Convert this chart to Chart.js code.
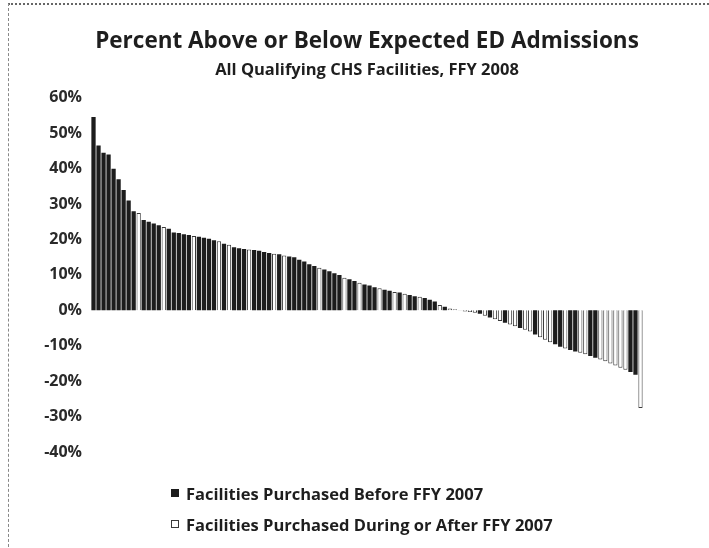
<!DOCTYPE html>
<html>
<head>
<meta charset="utf-8">
<script src="https://cdn.jsdelivr.net/npm/chart.js@4/dist/chart.umd.min.js"></script>
<style>
  html, body { margin: 0; padding: 0; background: #fff; }
  #wrap {
    position: relative; width: 709px; height: 548px; overflow: hidden;
    background: #fff;
  }
  #frame {
    position: absolute; left: 8px; top: 3px; right: -4px; bottom: -4px;
    border-top: 2px dotted #666; border-left: 1px dashed #888;
    pointer-events: none;
  }
  canvas { position: absolute; left: 0; top: 0; }
  #legend {
    position: absolute; left: 171px; top: 482px;
    font-family: "Open Sans", Lato, "DejaVu Sans", sans-serif; font-weight: bold;
    font-size: 16.5px; color: #1e1e1e;
  }
  #legend .item { display: flex; align-items: center; height: 22px; margin-bottom: 9px; }
  #legend .box { width: 8px; height: 8px; margin-right: 7px; box-sizing: border-box; }
</style>
</head>
<body>
<div id="wrap">
  <canvas id="c" width="709" height="548"></canvas>
  <div id="frame"></div>
  <div id="legend"></div>
</div>
<script>
// Percent above (+) or below (-) expected ED admissions, facilities ranked high to low
const pctAboveExpected = [
  54.6, 46.5, 44.5, 44.0, 40.0, 37.0, 34.0, 31.0, 28.0, 27.5,
  25.5, 25.0, 24.5, 24.0, 23.5, 23.0, 22.0, 21.8, 21.5, 21.3,
  21.0, 20.8, 20.5, 20.2, 19.8, 19.5, 18.8, 18.5, 17.8, 17.5,
  17.3, 17.2, 17.0, 16.8, 16.5, 16.2, 16.0, 15.8, 15.5, 15.2,
  15.0, 14.3, 13.8, 13.0, 12.5, 12.0, 11.5, 11.0, 10.5, 10.0,
  9.2, 8.8, 8.3, 7.8, 7.3, 7.0, 6.5, 6.2, 5.8, 5.5,
  5.2, 5.0, 4.7, 4.3, 4.0, 3.8, 3.5, 3.0, 2.5, 1.5,
  1.0, 0.5, 0.3, 0.1, -0.3, -0.5, -0.7, -1.0, -1.5, -2.0,
  -2.5, -3.0, -3.5, -4.0, -4.5, -5.0, -5.5, -6.0, -6.8, -7.6,
  -8.3, -9.0, -9.6, -10.3, -10.8, -11.2, -11.6, -12.0, -12.4, -12.9,
  -13.4, -13.9, -14.4, -15.0, -15.6, -16.2, -16.8, -17.4, -18.2, -27.6
];

// 1 = facility purchased during or after FFY 2007, 0 = purchased before FFY 2007
const purchasedAfter2007 = [
  0, 0, 0, 0, 0, 0, 0, 0, 0, 1,
  0, 0, 0, 0, 1, 0, 0, 0, 0, 0,
  1, 0, 0, 0, 0, 1, 0, 1, 0, 0,
  0, 1, 0, 0, 0, 0, 1, 0, 1, 0,
  0, 0, 0, 0, 0, 1, 0, 0, 0, 0,
  1, 0, 0, 1, 0, 0, 0, 1, 0, 0,
  1, 0, 1, 0, 0, 1, 0, 0, 0, 1,
  0, 1, 1, 1, 1, 1, 1, 0, 1, 0,
  1, 1, 0, 1, 1, 0, 1, 1, 0, 1,
  1, 1, 0, 0, 1, 0, 0, 1, 1, 0,
  0, 1, 1, 1, 1, 1, 1, 0, 0, 1
];

const facilityRank = pctAboveExpected.map((_, i) => String(i + 1));

const seriesNames = [
  'Facilities Purchased Before FFY 2007',
  'Facilities Purchased During or After FFY 2007'
];

const yTicks = [60, 50, 40, 30, 20, 10, 0, -10, -20, -30, -40];

const beforeValues = pctAboveExpected.map((v, i) => purchasedAfter2007[i] ? null : v);
const afterValues = pctAboveExpected.map((v, i) => purchasedAfter2007[i] ? v : null);

const FONT = '"Open Sans", Lato, "DejaVu Sans", sans-serif';

const chart = new Chart(document.getElementById('c'), {
  type: 'bar',
  data: {
    labels: facilityRank,
    datasets: [
      {
        label: seriesNames[0],
        data: beforeValues,
        backgroundColor: '#1c1c1c',
        borderColor: '#1c1c1c',
        borderWidth: 0,
        grouped: false,
        barPercentage: 0.85,
        categoryPercentage: 1.0
      },
      {
        label: seriesNames[1],
        data: afterValues,
        backgroundColor: '#ffffff',
        borderColor: '#3a3a3a',
        borderWidth: 1,
        grouped: false,
        barPercentage: 0.85,
        categoryPercentage: 1.0
      }
    ]
  },
  options: {
    responsive: false,
    devicePixelRatio: 1,
    animation: false,
    layout: { padding: { left: 11, right: 66, top: 0, bottom: 96 } },
    plugins: {
      legend: { display: false },
      tooltip: { enabled: false },
      title: {
        display: true,
        fullSize: false,
        text: 'Percent Above or Below Expected ED Admissions',
        color: '#1e1e1e',
        font: { family: FONT, size: 22.5, weight: 'bold' },
        padding: { top: 28.5, bottom: 4 }
      },
      subtitle: {
        display: true,
        fullSize: false,
        text: 'All Qualifying CHS Facilities, FFY 2008',
        color: '#1e1e1e',
        font: { family: FONT, size: 16.5, weight: 'bold' },
        padding: { top: 0.5, bottom: 18 }
      }
    },
    scales: {
      x: {
        display: false,
        grid: { display: false }
      },
      y: {
        min: -40,
        max: 60,
        afterBuildTicks: (scale) => { scale.ticks = yTicks.map(v => ({ value: v })); },
        afterFit: (scale) => { scale.width = 80; },
        grid: { display: false, drawTicks: false },
        border: { display: false },
        ticks: {
          padding: 9,
          color: '#2a2a2a',
          font: { family: FONT, size: 16, weight: 'bold' },
          callback: (v) => v + '%'
        }
      }
    }
  }
});

// Stacked legend below the plot, built from the chart's own legend items
const legendEl = document.getElementById('legend');
Chart.defaults.plugins.legend.labels.generateLabels(chart).forEach((item) => {
  const row = document.createElement('div');
  row.className = 'item';
  const box = document.createElement('span');
  box.className = 'box';
  box.style.background = item.fillStyle;
  box.style.border = '1px solid ' + item.strokeStyle;
  const txt = document.createElement('span');
  txt.textContent = item.text;
  row.appendChild(box);
  row.appendChild(txt);
  legendEl.appendChild(row);
});
</script>
</body>
</html>
